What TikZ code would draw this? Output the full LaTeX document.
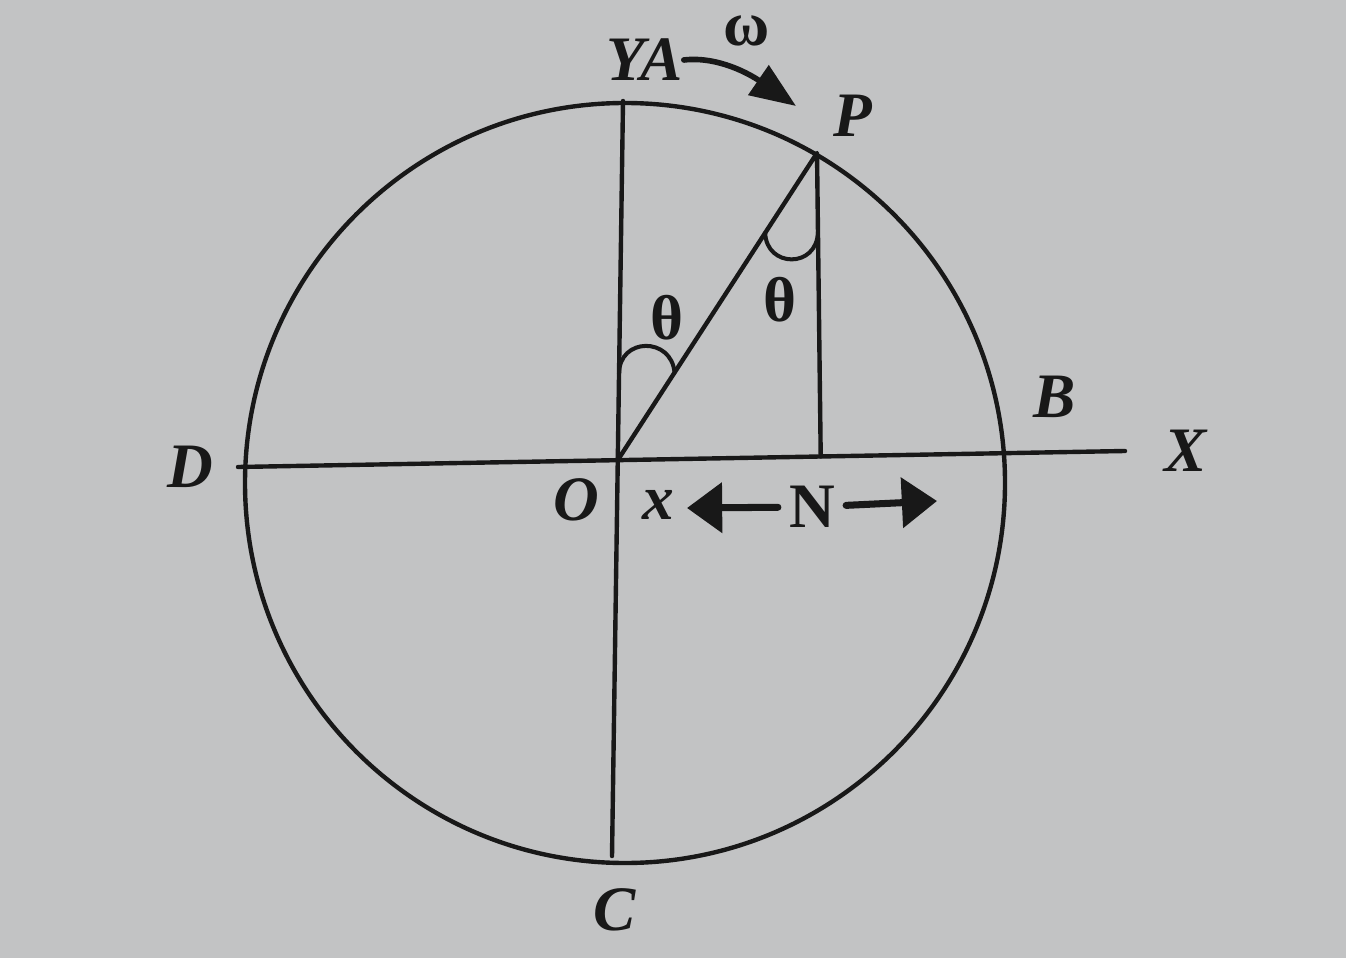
\documentclass[tikz,border=0pt]{standalone}
\usepackage{fontspec}
\setmainfont{Liberation Serif}
\usetikzlibrary{calc}
\usetikzlibrary{arrows.meta,positioning}
\definecolor{paper}{RGB}{194,195,196}
\definecolor{ink}{RGB}{24,24,24}
\begin{document}
\begin{tikzpicture}[
  x=0.01cm,y=-0.01cm,
  line cap=round,line join=round,
  geom/.style={draw=ink,line width=1.25pt},
  anglemark/.style={draw=ink,line width=1.15pt},
  lbl/.style={inner sep=0pt,text=ink,font=\fontsize{18}{20}\selectfont\bfseries\itshape},
  greek/.style={inner sep=0pt,text=ink,font=\fontsize{18}{20}\selectfont\bfseries},
  spinarrow/.style={draw=ink,line width=1.6pt,-{Triangle[length=13pt,width=10pt]}},
  pusharrow/.style={draw=ink,line width=2pt,-{Triangle[length=10pt,width=14pt]}},
  >=Latex
]
  % Page
  \useasboundingbox (0,0) rectangle (1346,958);
  \fill[paper] (0,0) rectangle (1346,958);

  % Key points
  \coordinate (Ctr) at (625,483);
  \coordinate (Dend) at (238,467);
  \coordinate (Xend) at (1125,451);
  \coordinate (Ytop) at (623,101);
  \coordinate (Cbot) at (612,856);
  \coordinate (O) at (intersection of Dend--Xend and Ytop--Cbot);
  \coordinate (P) at (817,153);
  \coordinate (Pdown) at (821,480);
  \coordinate (Nft) at (intersection of Dend--Xend and P--Pdown);

  % Circle, axes, triangle
  \draw[geom] (Ctr) circle[radius=380];
  \draw[geom] (Dend) -- (Xend);
  \draw[geom] (Ytop) -- (Cbot);
  \draw[geom] (O) -- (P) -- (Nft);

  % Angle marks
  \draw[anglemark] ($(O)!0.24!(Ytop)$) .. controls +(0,-37) and +(-3,-36) .. ($(O)!0.285!(P)$);
  \draw[anglemark] ($(P)!0.26!(O)$) .. controls +(1,35) and +(-1,37) .. ($(P)!0.26!(Nft)$);

  % Labels
  \node[lbl] (lblYA) at (645,60) {YA};
  \node[greek] (lblw) at (747,31) {ω};
  \node[lbl] (lblP) at (853,116) {P};
  \node[greek] (lblthL) at (667,318) {θ};
  \node[greek] (lblthR) at (780,300) {θ};
  \node[lbl] (lblB) at (1055,397) {B};
  \node[lbl] (lblX) at (1186,451) {X};
  \node[lbl] (lblD) at (190,467) {D};
  \node[lbl] (lblO) at (576,500) {O};
  \node[lbl] (lblx) at (658,505) {x};
  \node[greek,inner sep=3pt] (lblN) at (812,507) {N};
  \node[lbl] (lblC) at (615,910) {C};

  % Rotation arrow
  \coordinate (wtip) at (796,106);
  \draw[spinarrow] (lblYA.east) .. controls +(35,-4) and +(-45,-31) .. (wtip);

  % Arrows round N
  \coordinate (Nleft) at (687,508);
  \coordinate (Nright) at (937,501);
  \draw[pusharrow] (lblN) -- (Nleft);
  \draw[pusharrow] (lblN) -- (Nright);
\end{tikzpicture}
\end{document}
